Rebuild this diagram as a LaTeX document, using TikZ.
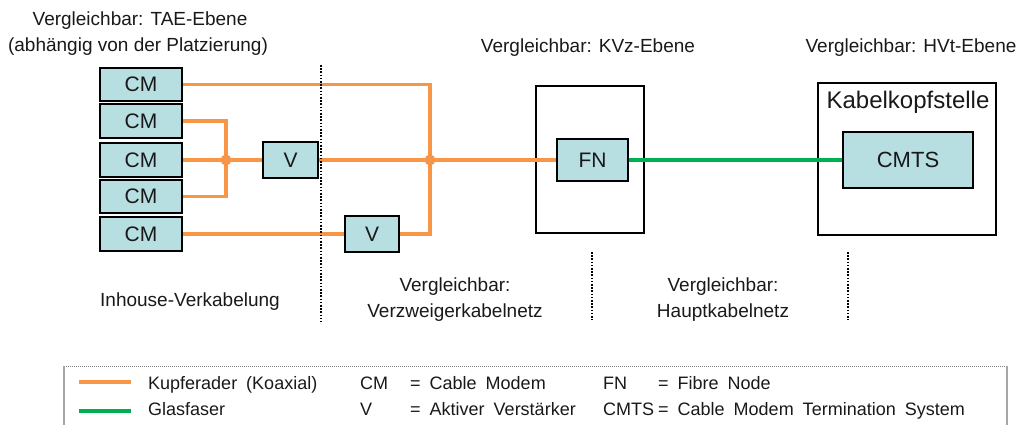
\documentclass[tikz,border=0pt]{standalone}
\usepackage{fontspec}
\setmainfont{Liberation Sans}
\definecolor{boxfill}{RGB}{183,222,224}
\definecolor{copper}{RGB}{247,150,70}
\definecolor{fibre}{RGB}{0,176,80}
\definecolor{txt}{RGB}{25,25,25}
\newcommand{\legfont}{\fontsize{18}{21}\selectfont\spaceskip=0.5em plus 0.1em\relax}
\begin{document}
\begin{tikzpicture}[x=1pt,y=-1pt,
  dev/.style={draw=black,line width=2pt,fill=boxfill,inner sep=0pt,font=\fontsize{21}{24}\selectfont,text=txt},
  frame/.style={draw=black,line width=2pt,fill=none,inner sep=0pt},
  cu/.style={draw=copper,line width=3.3pt},
  fo/.style={draw=fibre,line width=3.3pt},
  lbl/.style={font=\fontsize{19}{22}\selectfont,text=txt,inner sep=0pt},
  leg/.style={font=\legfont,text=txt,inner sep=0pt,anchor=base west},
  sep/.style={draw=black,line width=1.6pt,dash pattern=on 1.6pt off 1.6pt},
  jdot/.style={circle,fill=copper,inner sep=0pt,minimum size=11pt}]
\useasboundingbox (0,0) rectangle (1017,425);

% top labels
\node[lbl] (t1) at (140,21) {Vergleichbar: TAE-Ebene};
\node[lbl] (t2) at (138,47) {(abhängig von der Platzierung)};
\node[lbl] (t3) at (588,48) {Vergleichbar: KVz-Ebene};
\node[lbl] (t4) at (911,48) {Vergleichbar: HVt-Ebene};

% frames
\node[frame,minimum width=108pt,minimum height=147pt] (kvz) at (590,159.5) {};
\node[frame,minimum width=178pt,minimum height=152pt] (kks) at (907,159) {};
\node[font=\fontsize{24}{28}\selectfont,text=txt,inner sep=0pt] (kkslbl) at (908,102) {Kabelkopfstelle};

% devices
\node[dev,minimum width=82pt,minimum height=33pt] (cm1) at (141,84.5) {CM};
\node[dev,minimum width=82pt,minimum height=34pt] (cm2) at (141,121) {CM};
\node[dev,minimum width=82pt,minimum height=34pt] (cm3) at (141,160) {CM};
\node[dev,minimum width=82pt,minimum height=33pt] (cm4) at (141,196.5) {CM};
\node[dev,minimum width=82pt,minimum height=34pt] (cm5) at (141,234) {CM};
\node[dev,minimum width=55pt,minimum height=36pt] (v1) at (290.5,160) {V};
\node[dev,minimum width=54pt,minimum height=36pt] (v2) at (372,234) {V};
\node[dev,minimum width=71pt,minimum height=42pt] (fn) at (592.5,160) {FN};
\node[dev,minimum width=130pt,minimum height=56pt,font=\fontsize{22}{26}\selectfont] (cmts) at (908,160) {CMTS};

\coordinate (j1) at (226,160);
\coordinate (j2) at (430,160);

% copper lines
\draw[cu] (cm2.east) -| (j1);
\draw[cu] (cm4.east) -| (j1);
\draw[cu] (cm3.east) -- (v1.west);
\draw[cu] (cm1.east) -| (j2);
\draw[cu] (cm5.east) -- (v2.west);
\draw[cu] (v2.east) -| (j2);
\draw[cu] (v1.east) -- (fn.west);
\node[jdot] (d1) at (j1) {};
\node[jdot] (d2) at (j2) {};
% fibre
\draw[fo] (fn.east) -- (cmts.west);

% separators
\coordinate (s1a) at (321,65);  \coordinate (s1b) at (321,322);
\coordinate (s2a) at (592,252); \coordinate (s2b) at (592,320);
\coordinate (s3a) at (848,252); \coordinate (s3b) at (848,320);
\draw[sep] (s1a) -- (s1b);
\draw[sep] (s2a) -- (s2b);
\draw[sep] (s3a) -- (s3b);

% bottom labels
\node[lbl] (b1) at (190,302) {Inhouse-Verkabelung};
\node[lbl] (b2) at (455,287) {Vergleichbar:};
\node[lbl] (b3) at (455,313) {Verzweigerkabelnetz};
\node[lbl] (b4) at (723,287) {Vergleichbar:};
\node[lbl] (b5) at (723,313) {Hauptkabelnetz};

% legend
\coordinate (la) at (64,366); \coordinate (lb) at (1007,366);
\coordinate (lc) at (64,425); \coordinate (ld) at (1007,425);
\draw[gray,line width=1pt,dash pattern=on 1pt off 1pt] (la) -- (lb);
\draw[gray!70,line width=1.2pt] (la) -- (lc);
\draw[gray!70,line width=1.2pt] (lb) -- (ld);
\coordinate (lo1) at (79,382); \coordinate (lo2) at (131,382);
\coordinate (lg1) at (79,411); \coordinate (lg2) at (131,411);
\draw[cu] (lo1) -- (lo2);
\draw[fo] (lg1) -- (lg2);
\node[leg] (k1) at (148,389) {Kupferader (Koaxial)};
\node[leg] (k2) at (148,415) {Glasfaser};
\node[leg] (k3) at (360,389) {CM};
\node[leg] (k4) at (360,415) {V};
\node[leg] (k5) at (410,389) {= Cable Modem};
\node[leg] (k6) at (410,415) {= Aktiver Verstärker};
\node[leg] (k7) at (603,389) {FN};
\node[leg] (k8) at (603,415) {CMTS};
\node[leg] (k9) at (658,389) {= Fibre Node};
\node[leg] (k10) at (658,415) {= Cable Modem Termination System};
\end{tikzpicture}
\end{document}
